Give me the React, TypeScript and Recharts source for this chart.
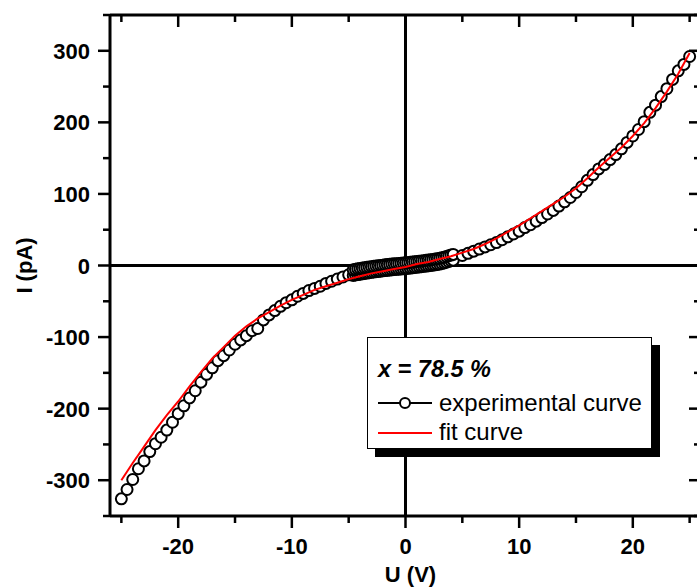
import React from 'react'
import { ComposedChart, Scatter, XAxis, YAxis, ReferenceLine, Label } from 'recharts'

// experimental I-U points (U in V, I in pA)
const NEG_U = [
  -25, -24.5, -24, -23.5, -23, -22.5, -22, -21.5, -21, -20.5, -20, -19.5, -19, -18.5, -18, -17.5, -17, -16.5, -16, -15.5,
  -15, -14.5, -14, -13.5, -13, -12.5, -12, -11.5, -11, -10.5, -10, -9.5, -9, -8.5, -8, -7.5, -7, -6.5, -6, -5.5, -5,
]
const NEG_I = [
  -326, -313, -299, -284, -273, -260, -249, -240, -230, -219, -207, -196, -185, -175, -163, -152, -143, -133, -126, -118,
  -110, -104, -98, -91, -88, -76, -69, -63, -57, -52, -48, -43, -39, -35, -32, -29, -25, -22, -19, -16, -13,
]
// dense low-voltage region, measured twice (two sweeps)
const CENTER_U = [
  -4.6, -4.4, -4.2, -4, -3.8, -3.6, -3.4, -3.2, -3, -2.8, -2.6, -2.4, -2.2, -2, -1.8, -1.6, -1.4, -1.2, -1, -0.8, -0.6, -0.4, -0.2,
  0, 0.2, 0.4, 0.6, 0.8, 1, 1.2, 1.4, 1.6, 1.8, 2, 2.2, 2.4, 2.6, 2.8, 3, 3.2, 3.4, 3.6, 3.8, 4, 4.2,
]
const LOWER_I = [
  -14, -13.3, -12.7, -12.1, -11.6, -11.1, -10.6, -10.1, -9.6, -9.1, -8.7, -8.3, -7.9, -7.5, -7.1, -6.7, -6.4, -6, -5.7, -5.4, -5.1, -4.8, -4.6,
  -4.3, -4, -3.6, -3.2, -2.8, -2.4, -2, -1.6, -1.2, -0.8, -0.4, 0, 0.5, 1, 1.5, 2, 2.8, 3.6, 4.6, 5.6, 6.6, 7.5,
]
const UPPER_I = [
  -6, -5.3, -4.7, -4.1, -3.6, -3.1, -2.6, -2.1, -1.6, -1.1, -0.7, -0.3, 0.1, 0.5, 0.9, 1.3, 1.6, 2, 2.3, 2.6, 2.9, 3.2, 3.4,
  3.7, 4, 4.4, 4.8, 5.2, 5.6, 6, 6.4, 6.8, 7.2, 7.6, 8, 8.5, 9, 9.5, 10, 10.8, 11.6, 12.6, 13.6, 14.6, 15.5,
]
const POS_U = [
  5, 5.5, 6, 6.5, 7, 7.5, 8, 8.5, 9, 9.5, 10, 10.5, 11, 11.5, 12, 12.5, 13, 13.5, 14, 14.5,
  15, 15.5, 16, 16.5, 17, 17.5, 18, 18.5, 19, 19.5, 20, 20.5, 21, 21.5, 22, 22.5, 23, 23.5, 24, 24.5, 25,
]
const POS_I = [
  14, 17, 20, 23, 26, 29, 32, 36, 40, 44, 48, 53, 57, 62, 67, 72, 77, 83, 89, 95,
  102, 110, 119, 127, 135, 141, 148, 155, 163, 172, 181, 190, 201, 214, 224, 236, 247, 260, 272, 281, 292,
]

// fitted curve
const FIT_U = [
  -25, -24, -23, -22, -21, -20, -19, -18, -17, -16, -15, -14, -13, -12, -11, -10, -9, -8, -7, -6, -5, -4, -3, -2, -1,
  0, 1, 2, 3, 4, 5, 6, 7, 8, 9, 10, 11, 12, 13, 14, 15, 16, 17, 18, 19, 20, 21, 22, 23, 24, 25,
]
const FIT_I = [
  -300, -276, -253, -230, -209, -190, -169, -149, -130, -114, -98, -85, -74, -65, -56, -48, -41, -34, -29, -24, -19, -15, -11, -8, -5,
  -2, 2, 5, 9, 13, 18, 23, 30, 38, 47, 56, 66, 76, 86, 96, 108, 122, 137, 151, 165, 181, 199, 220, 243, 268, 297,
]

const X_TICKS = [-25, -20, -15, -10, -5, 0, 5, 10, 15, 20, 25]
const Y_TICKS = [-350, -300, -250, -200, -150, -100, -50, 0, 50, 100, 150, 200, 250, 300, 350]
const X_DOMAIN = [-26, 26]
const Y_DOMAIN = [-350, 350]

const X_TITLE = 'U (V)'
const Y_TITLE = 'I (pA)'
const LEGEND_TITLE = 'x = 78.5 %'
const SERIES_NAMES = ['experimental curve', 'fit curve']

const pts = (us: number[], is: number[]) => us.map((u, k) => ({ u, i: is[k] }))
const expData = [
  ...pts(NEG_U, NEG_I),
  ...pts(CENTER_U, LOWER_I),
  ...pts(CENTER_U, UPPER_I),
  ...pts(POS_U, POS_I),
]
const fitData = pts(FIT_U, FIT_I)

const FONT = '"Liberation Sans", Arial, sans-serif'
const labelStyle = { fontFamily: FONT, fontSize: 22, fontWeight: 700, fill: '#000' }

const BottomTick = (props: any) => {
  const { x, y, payload } = props
  const major = payload.value % 10 === 0
  return (
    <g>
      <line x1={x} y1={y} x2={x} y2={y + (major ? 12 : 7)} stroke="#000" strokeWidth={2.5} />
      {major && (
        <text x={x} y={y + 37.5} textAnchor="middle" style={labelStyle}>
          {payload.value}
        </text>
      )}
    </g>
  )
}

const TopTick = (props: any) => {
  const { x, y, payload } = props
  const major = payload.value % 10 === 0
  return <line x1={x} y1={y} x2={x} y2={y + (major ? 12 : 7)} stroke="#000" strokeWidth={2.5} />
}

const LeftTick = (props: any) => {
  const { x, y, payload } = props
  const major = payload.value % 100 === 0
  return (
    <g>
      <line x1={x} y1={y} x2={x - (major ? 12 : 7)} y2={y} stroke="#000" strokeWidth={2.5} />
      {major && (
        <text x={x - 20} y={y + 8} textAnchor="end" style={labelStyle}>
          {payload.value}
        </text>
      )}
    </g>
  )
}

const RightTick = (props: any) => {
  const { x, y, payload } = props
  const major = payload.value % 100 === 0
  return <line x1={x} y1={y} x2={x - (major ? 12 : 7)} y2={y} stroke="#000" strokeWidth={2.5} />
}

const Ring = (props: any) => (
  <circle cx={props.cx} cy={props.cy} r={5.5} fill="#fff" stroke="#000" strokeWidth={2} />
)
const NoDot = () => <g />

const axisLine = { stroke: '#000', strokeWidth: 3 }

export default function App() {
  return (
    <div style={{ position: 'absolute', left: 0, top: 0, width: 697, height: 587, overflow: 'hidden', background: '#fff' }}>
      <ComposedChart width={705} height={587} margin={{ top: 14, right: 3, bottom: 70, left: 109 }}>
        <XAxis
          xAxisId={0}
          dataKey="u"
          type="number"
          domain={X_DOMAIN}
          ticks={X_TICKS}
          interval={0}
          allowDataOverflow
          height={1}
          tickSize={0}
          tickMargin={0}
          axisLine={axisLine}
          tickLine={false}
          tick={<BottomTick />}
        >
          <Label
            content={(p: any) => (
              <text x={p.viewBox.x + p.viewBox.width / 2 + 5} y={p.viewBox.y + 66} textAnchor="middle" style={labelStyle}>
                {X_TITLE}
              </text>
            )}
          />
        </XAxis>
        <XAxis
          xAxisId="top"
          orientation="top"
          dataKey="u"
          type="number"
          domain={X_DOMAIN}
          ticks={X_TICKS}
          interval={0}
          allowDataOverflow
          height={1}
          tickSize={0}
          tickMargin={0}
          axisLine={axisLine}
          tickLine={false}
          tick={<TopTick />}
        />
        <YAxis
          yAxisId={0}
          type="number"
          domain={Y_DOMAIN}
          ticks={Y_TICKS}
          interval={0}
          allowDataOverflow
          width={1}
          tickSize={0}
          tickMargin={0}
          axisLine={axisLine}
          tickLine={false}
          tick={<LeftTick />}
        >
          <Label
            content={(p: any) => {
              const cy = p.viewBox.y + p.viewBox.height / 2
              return (
                <text x={32} y={cy} textAnchor="middle" transform={`rotate(-90, 32, ${cy})`} style={labelStyle}>
                  {Y_TITLE}
                </text>
              )
            }}
          />
        </YAxis>
        <YAxis
          yAxisId="right"
          orientation="right"
          type="number"
          domain={Y_DOMAIN}
          ticks={Y_TICKS}
          interval={0}
          allowDataOverflow
          width={1}
          tickSize={0}
          tickMargin={0}
          axisLine={axisLine}
          tickLine={false}
          tick={<RightTick />}
        />
        <ReferenceLine y={0} stroke="#000" strokeWidth={3} />
        <ReferenceLine x={0} stroke="#000" strokeWidth={3} />
        <Scatter data={expData} dataKey="i" shape={<Ring />} isAnimationActive={false} />
        <Scatter
          data={fitData}
          dataKey="i"
          shape={<NoDot />}
          line={{ stroke: '#f00', strokeWidth: 2 }}
          lineType="joint"
          isAnimationActive={false}
        />
      </ComposedChart>

      <div
        style={{
          position: 'absolute',
          left: 367,
          top: 337,
          width: 285,
          height: 112,
          boxSizing: 'border-box',
          border: '1px solid #000',
          background: '#fff',
          boxShadow: '8px 8px 0 #000',
        }}
      >
        <svg width={285} height={112} style={{ position: 'absolute', left: -1, top: -1 }}>
          <text x={11} y={40} style={{ fontFamily: FONT, fontSize: 23.5, fontWeight: 700, fontStyle: 'italic' }}>
            {LEGEND_TITLE}
          </text>
          <line x1={11} y1={66} x2={65} y2={66} stroke="#000" strokeWidth={2} />
          <circle cx={38} cy={66} r={5} fill="#fff" stroke="#000" strokeWidth={2} />
          <text x={72} y={74} style={{ fontFamily: FONT, fontSize: 24 }}>
            {SERIES_NAMES[0]}
          </text>
          <line x1={11} y1={96} x2={65} y2={96} stroke="#f00" strokeWidth={2} />
          <text x={72} y={103} style={{ fontFamily: FONT, fontSize: 24 }}>
            {SERIES_NAMES[1]}
          </text>
        </svg>
      </div>
    </div>
  )
}
